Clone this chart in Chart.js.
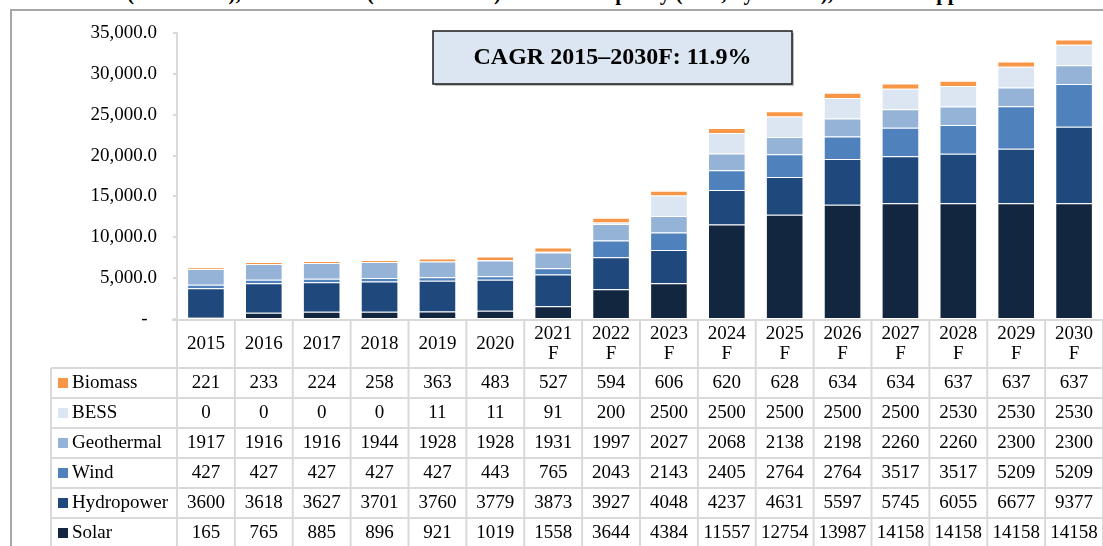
<!DOCTYPE html>
<html>
<head>
<meta charset="utf-8">
<script src="https://cdn.jsdelivr.net/npm/chart.js@4.4.1/dist/chart.umd.min.js"></script>
<style>
body{margin:0;background:#fff;}
#wrap{position:relative;width:1103px;height:546px;overflow:hidden;}
.frame{position:absolute;left:10px;top:9px;width:1200px;height:600px;border:2px solid #a6a6a6;}
.title{position:absolute;left:33px;top:-19px;line-height:21px;font:bold 21px "Liberation Serif","Times New Roman",serif;white-space:nowrap;color:#000;}
canvas{position:absolute;left:0;top:0;}
</style>
</head>
<body>
<div id="wrap">
  <div class="title">Historical (2015–2020), and Forecast (2021F–2030F) Installed Capacity (MW, by Source), in the Philippines</div>
  <div class="frame"></div>
  <canvas id="myChart" width="1103" height="546"></canvas>
</div>
<script>
// categories
const years = ['2015','2016','2017','2018','2019','2020','2021F','2022F','2023F','2024F','2025F','2026F','2027F','2028F','2029F','2030F'];

// series values (MW)
const solar = [165,765,885,896,921,1019,1558,3644,4384,11557,12754,13987,14158,14158,14158,14158];
const hydropower = [3600,3618,3627,3701,3760,3779,3873,3927,4048,4237,4631,5597,5745,6055,6677,9377];
const wind = [427,427,427,427,427,443,765,2043,2143,2405,2764,2764,3517,3517,5209,5209];
const geothermal = [1917,1916,1916,1944,1928,1928,1931,1997,2027,2068,2138,2198,2260,2260,2300,2300];
const bess = [0,0,0,0,11,11,91,200,2500,2500,2500,2500,2500,2530,2530,2530];
const biomass = [221,233,224,258,363,483,527,594,606,620,628,634,634,637,637,637];

const seriesNames = ['Solar','Hydropower','Wind','Geothermal','BESS','Biomass'];
const seriesValues = [solar, hydropower, wind, geothermal, bess, biomass];
const seriesColors = ['#13263f','#1f497d','#4f81bd','#95b3d7','#dce6f2','#f79646'];

// y ticks
const yMax = 35000;
const yStep = 5000;

const cagrText = 'CAGR 2015–2030F: 11.9%';

const serif = '"Liberation Serif","Times New Roman",serif';

function fmtTick(v){
    if (v === 0) return '-  ';
    return v.toLocaleString('en-US',{minimumFractionDigits:1, maximumFractionDigits:1});
}

// data table under the bars, columns follow the x scale
const tablePlugin = {
    id:'dataTable',
    afterDraw(chart){
        let c = chart.ctx;
        let x = chart.scales.x;
        let area = chart.chartArea;
        let colW = (x.right - x.left) / years.length;
        let top = area.bottom + 1;
        let headH = 48, rowH = 30, legLeft = 51;
        let rowsTop = top + headH;
        c.save();
        c.strokeStyle = '#d9d9d9';
        c.lineWidth = 2;
        // axis line
        c.beginPath();
        c.moveTo(area.left - 5, top);
        c.lineTo(chart.width, top);
        c.stroke();
        // vertical lines
        for (let i = 0; i <= years.length; i++) {
            let px = x.left + i * colW;
            c.beginPath();
            c.moveTo(px, top);
            c.lineTo(px, chart.height);
            c.stroke();
        }
        c.beginPath();
        c.moveTo(legLeft, rowsTop);
        c.lineTo(legLeft, chart.height);
        c.stroke();
        // horizontal lines
        for (let k = 0; k <= seriesNames.length; k++) {
            let py = rowsTop + k * rowH;
            c.beginPath();
            c.moveTo(legLeft, py);
            c.lineTo(chart.width, py);
            c.stroke();
        }
        c.fillStyle = '#000';
        c.font = `19px ${serif}`;
        c.textAlign = 'center';
        c.textBaseline = 'middle';
        // header
        for (let i = 0; i < years.length; i++) {
            let cx = x.getPixelForValue(i);
            let label = years[i];
            if (label.endsWith('F')) {
                c.fillText(label.slice(0, -1), cx, top + 14);
                c.fillText('F', cx, top + 34);
            } else {
                c.fillText(label, cx, top + 24);
            }
        }
        // rows, top row is the last series
        for (let k = 0; k < seriesNames.length; k++) {
            let s = seriesNames.length - 1 - k;
            let cy = rowsTop + k * rowH + rowH / 2;
            c.fillStyle = seriesColors[s];
            c.fillRect(58, cy - 5, 10, 10);
            c.fillStyle = '#000';
            c.textAlign = 'left';
            c.fillText(seriesNames[s], 72, cy);
            c.textAlign = 'center';
            for (let i = 0; i < years.length; i++) {
                c.fillText(String(seriesValues[s][i]), x.getPixelForValue(i), cy);
            }
        }
        c.restore();
    }
};

const cagrPlugin = {
    id:'cagrBox',
    afterDraw(chart){
        let c = chart.ctx;
        c.save();
        c.fillStyle = '#bfbfbf';
        c.fillRect(435, 33, 359, 53);
        c.fillStyle = '#dce6f2';
        c.fillRect(433, 31, 359, 53);
        c.strokeStyle = '#1a1a1a';
        c.lineWidth = 1.5;
        c.strokeRect(433, 31, 359, 53);
        c.fillStyle = '#000';
        c.font = `bold 24px ${serif}`;
        c.textAlign = 'center';
        c.textBaseline = 'middle';
        c.fillText(cagrText, 612.5, 58);
        c.restore();
    }
};

const ctx = document.getElementById('myChart').getContext('2d');
let chart = new Chart(ctx, {
    type:'bar',
    data:{
        labels: years,
        datasets: seriesNames.map((name, i) => ({
            label: name,
            data: seriesValues[i],
            backgroundColor: seriesColors[i],
            borderColor: 'rgba(255,255,255,0.35)',
            borderWidth: 1,
            barPercentage: 0.65,
            categoryPercentage: 1
        }))
    },
    options:{
        responsive:false,
        animation:false,
        layout:{padding:{top:33, bottom:227, left:0, right:0}},
        plugins:{legend:{display:false}, tooltip:{enabled:false}},
        scales:{
            x:{stacked:true, display:false},
            y:{
                stacked:true,
                min:0,
                max:yMax,
                ticks:{stepSize:yStep, color:'#000', font:{family:serif, size:19}, padding:16, callback:v => fmtTick(v)},
                grid:{drawOnChartArea:false, tickLength:4, color:'#d9d9d9', lineWidth:2},
                border:{color:'#d9d9d9', width:2},
                afterFit(scale){ scale.width = 177; }
            }
        }
    },
    plugins:[tablePlugin, cagrPlugin]
});
</script>
</body>
</html>
